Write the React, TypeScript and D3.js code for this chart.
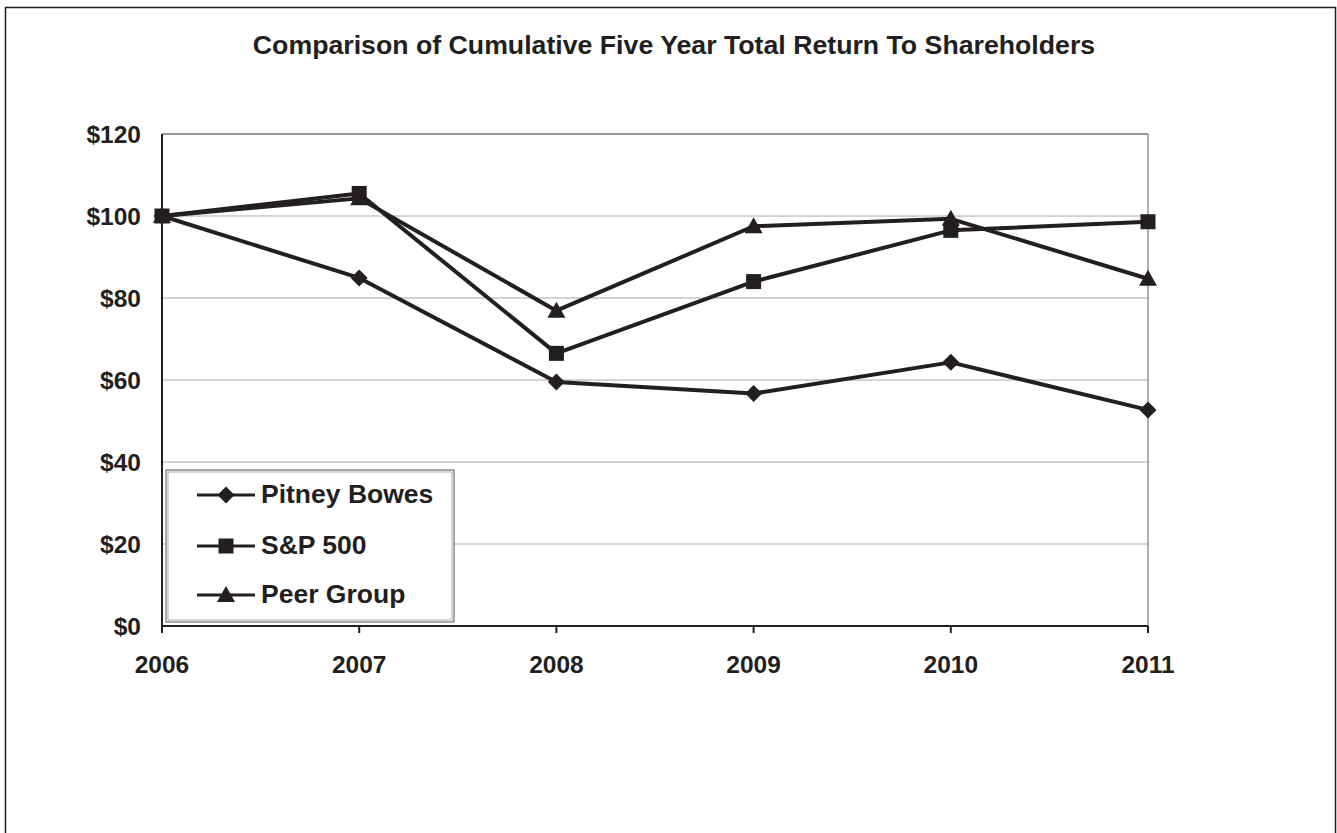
import React from "react";
import * as d3 from "d3";

const years = ["2006", "2007", "2008", "2009", "2010", "2011"];
const pitneyBowes = [100, 84.9, 59.5, 56.7, 64.3, 52.7];
const sp500 = [100, 105.5, 66.5, 84.0, 96.5, 98.6];
const peerGroup = [100, 104.3, 76.9, 97.5, 99.3, 84.7];
const yTicks = [0, 20, 40, 60, 80, 100, 120];
const title = "Comparison of Cumulative Five Year Total Return To Shareholders";

const seriesList = [
  { name: "Pitney Bowes", values: pitneyBowes, marker: "diamond" },
  { name: "S&P 500", values: sp500, marker: "square" },
  { name: "Peer Group", values: peerGroup, marker: "triangle" },
];

const INK = "#231f20";
const FONT = "Liberation Sans, Arial, sans-serif";

function Marker({ type, x, y }: { type: string; x: number; y: number }) {
  if (type === "diamond") {
    const s = 8.5;
    return <path d={`M${x},${y - s}L${x + s},${y}L${x},${y + s}L${x - s},${y}Z`} fill={INK} />;
  }
  if (type === "square") {
    const s = 7.5;
    return <rect x={x - s} y={y - s} width={2 * s} height={2 * s} fill={INK} />;
  }
  const s = 9;
  return <path d={`M${x},${y - s}L${x + s},${y + 7}L${x - s},${y + 7}Z`} fill={INK} />;
}

export default function App() {
  const W = 1337, H = 833;
  const left = 162, right = 1148, top = 134, bottom = 626;
  const x = d3.scalePoint<string>().domain(years).range([left, right]);
  const y = d3.scaleLinear().domain([0, 120]).range([bottom, top]);
  const line = d3.line<number>().x((_, i) => x(years[i]) as number).y((d) => y(d));

  const legX = 166, legY = 470, legW = 288, legH = 152;
  const rowY = [495, 546, 595];

  return (
    <svg width={W} height={H} style={{ position: "absolute", left: 0, top: 0, background: "#fff" }}>
      <rect x={0} y={0} width={W} height={H} fill="#fff" />
      <rect x={5.5} y={7.5} width={1330} height={840} fill="none" stroke={INK} strokeWidth={1.5} />
      <text x={674} y={54} textAnchor="middle" fontFamily={FONT} fontWeight="bold" fontSize={26.7} fill={INK}>
        {title}
      </text>
      {/* gridlines */}
      {yTicks.filter((t) => t > 0 && t < 120).map((t) => (
        <line key={t} x1={left} x2={right} y1={y(t)} y2={y(t)} stroke="#a8a8a8" strokeWidth={1} />
      ))}
      {/* plot border top/right */}
      <line x1={left} x2={right} y1={y(120)} y2={y(120)} stroke="#333" strokeWidth={1.2} />
      <line x1={right} x2={right} y1={top} y2={bottom} stroke="#777" strokeWidth={1.2} />
      {/* axes */}
      <line x1={left} x2={left} y1={top} y2={bottom + 7} stroke={INK} strokeWidth={2} />
      <line x1={left} x2={right} y1={bottom} y2={bottom} stroke={INK} strokeWidth={2} />
      {years.map((yr) => (
        <line key={yr} x1={x(yr)} x2={x(yr)} y1={bottom} y2={bottom + 7} stroke={INK} strokeWidth={2} />
      ))}
      {yTicks.map((t) => (
        <text key={t} x={141} y={y(t) + 9} textAnchor="end" fontFamily={FONT} fontWeight="bold" fontSize={24.5} fill={INK}>
          {`$${t}`}
        </text>
      ))}
      {years.map((yr) => (
        <text key={yr} x={x(yr)} y={673} textAnchor="middle" fontFamily={FONT} fontWeight="bold" fontSize={24.5} fill={INK}>
          {yr}
        </text>
      ))}
      {/* series */}
      {seriesList.map((s) => (
        <g key={s.name}>
          <path d={line(s.values) || ""} fill="none" stroke={INK} strokeWidth={4} strokeLinejoin="round" />
          {s.values.map((v, i) => (
            <Marker key={i} type={s.marker} x={x(years[i]) as number} y={y(v)} />
          ))}
        </g>
      ))}
      {/* legend */}
      <rect x={legX} y={legY} width={legW} height={legH} fill="#fff" stroke="#555" strokeWidth={1} />
      <rect x={legX + 2} y={legY + 2} width={legW - 4} height={legH - 4} fill="none" stroke="#999" strokeWidth={0.8} />
      {seriesList.map((s, i) => (
        <g key={s.name}>
          <line x1={197} x2={255} y1={rowY[i]} y2={rowY[i]} stroke={INK} strokeWidth={3} />
          <Marker type={s.marker} x={226} y={rowY[i]} />
          <text x={261} y={rowY[i] + 8} fontFamily={FONT} fontWeight="bold" fontSize={26.5} fill={INK}>
            {s.name}
          </text>
        </g>
      ))}
    </svg>
  );
}
